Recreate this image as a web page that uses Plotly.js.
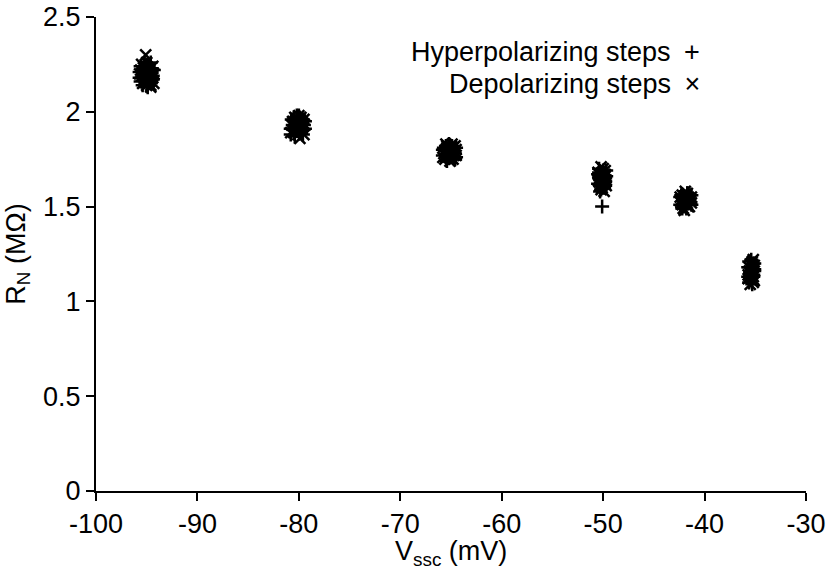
<!DOCTYPE html>
<html>
<head>
<meta charset="utf-8">
<script src="https://cdn.plot.ly/plotly-3.0.1.min.js"></script>
<style>html,body{margin:0;padding:0;background:#fff;}#chart{width:829px;height:584px;}</style>
</head>
<body>
<div id="chart"></div>
<script>
// Hyperpolarizing steps (+)
const hypX = [
  -95.6,-95.3,-95.0,-94.7,-94.4,-95.5,-95.1,-94.8,-94.5,-95.4,-95.0,-94.6,-95.7,-95.2,-94.9,-94.4,-95.3,-94.8,-95.6,-94.3,-95.2,-94.6,-95.7,-94.9,
  -80.7,-80.3,-79.9,-79.5,-80.5,-80.1,-79.7,-80.8,-80.2,-79.6,-80.4,-79.8,-80.0,-79.4,-80.6,-80.8,-79.4,-80.0,-80.5,-79.6,-80.2,
  -65.7,-65.3,-64.9,-64.6,-65.5,-65.1,-64.7,-65.8,-65.2,-64.8,-65.4,-65.0,-64.5,-65.6,-65.0,-65.8,-64.5,-65.2,-64.9,-65.5,-64.6,
  -50.4,-50.0,-49.7,-50.3,-49.9,-50.5,-50.1,-49.8,-50.2,-50.4,-50.0,-49.8,-50.3,-50.1,-50.1,-50.5,-49.7,-50.2,-49.9,-50.4,-49.8,
  -42.3,-41.9,-41.5,-42.1,-41.7,-41.4,-42.4,-42.0,-41.6,-42.2,-41.8,-41.3,-41.9,-42.0,-42.4,-41.3,-41.7,-42.2,-41.5,-42.0,
  -35.6,-35.3,-35.1,-35.5,-35.2,-35.7,-35.4,-35.1,-35.6,-35.3,-35.2,-35.5,-35.4,-35.7,-35.1,-35.4,-35.6,-35.2
];
const hypY = [
  2.24,2.22,2.25,2.21,2.19,2.18,2.16,2.20,2.23,2.14,2.17,2.15,2.21,2.26,2.13,2.17,2.20,2.24,2.16,2.22,2.19,2.26,2.18,2.23,
  1.96,1.94,1.97,1.93,1.91,1.95,1.90,1.88,1.92,1.96,1.87,1.89,1.98,1.91,1.93,1.91,1.95,1.93,1.97,1.88,1.98,
  1.81,1.79,1.82,1.78,1.76,1.80,1.75,1.77,1.83,1.79,1.74,1.78,1.81,1.79,1.76,1.80,1.76,1.77,1.81,1.82,1.75,
  1.70,1.68,1.66,1.64,1.62,1.67,1.60,1.63,1.59,1.65,1.69,1.61,1.58,1.66,1.50,1.62,1.69,1.67,1.60,1.68,1.65,
  1.56,1.55,1.54,1.53,1.57,1.52,1.51,1.50,1.53,1.55,1.49,1.56,1.52,1.54,1.55,1.51,1.57,1.49,1.56,1.53,
  1.21,1.19,1.17,1.15,1.20,1.13,1.11,1.16,1.18,1.09,1.14,1.12,1.22,1.18,1.20,1.16,1.10,1.13
];
// Depolarizing steps (x)
const depX = [
  -95.1,-95.5,-94.9,-94.5,-95.3,-94.7,-95.6,-95.0,-94.4,-95.2,-94.8,-95.4,-94.6,-95.0,-94.3,-95.5,-94.9,-95.2,-95.7,-94.4,-95.0,-94.6,-95.3,-94.3,
  -80.4,-80.0,-79.6,-80.7,-80.2,-79.8,-79.5,-80.5,-80.1,-79.7,-80.6,-80.3,-79.9,-79.4,-80.0,-80.8,-79.5,-80.3,-79.8,-80.5,-79.6,
  -65.4,-65.0,-64.6,-65.7,-65.2,-64.8,-65.5,-65.1,-64.7,-65.6,-65.3,-64.9,-64.5,-65.0,-65.4,-65.8,-64.6,-65.2,-64.8,-65.5,-64.5,
  -50.2,-49.8,-50.5,-50.0,-49.7,-50.3,-49.9,-50.4,-50.1,-49.8,-50.2,-50.0,-50.3,-49.9,-50.5,-49.7,-50.1,-50.4,-49.8,-50.2,
  -41.9,-42.2,-41.6,-41.4,-42.3,-41.8,-42.0,-41.5,-42.4,-41.7,-42.1,-41.3,-41.9,-42.0,-42.4,-41.3,-41.6,-42.2,-41.8,-42.1,
  -35.4,-35.2,-35.6,-35.1,-35.5,-35.3,-35.7,-35.2,-35.4,-35.6,-35.1,-35.3,-35.5,-35.7,-35.1,-35.3,-35.5,-35.2
];
const depY = [
  2.30,2.25,2.23,2.20,2.19,2.16,2.22,2.14,2.24,2.21,2.18,2.15,2.13,2.26,2.15,2.19,2.22,2.17,2.20,2.18,2.24,2.14,2.23,2.20,
  1.97,1.95,1.92,1.93,1.90,1.94,1.96,1.89,1.88,1.91,1.95,1.92,1.86,1.93,1.98,1.89,1.88,1.95,1.97,1.93,1.94,
  1.82,1.80,1.79,1.78,1.76,1.81,1.80,1.74,1.77,1.75,1.79,1.83,1.77,1.78,1.81,1.76,1.82,1.80,1.75,1.83,1.80,
  1.71,1.69,1.68,1.66,1.64,1.65,1.62,1.63,1.60,1.67,1.59,1.70,1.61,1.58,1.64,1.61,1.68,1.67,1.66,1.63,
  1.58,1.56,1.55,1.53,1.52,1.54,1.51,1.50,1.55,1.57,1.49,1.52,1.53,1.48,1.53,1.55,1.50,1.51,1.56,1.54,
  1.20,1.22,1.18,1.16,1.14,1.19,1.12,1.10,1.13,1.16,1.11,1.17,1.15,1.14,1.19,1.21,1.09,1.13
];
const xTickVals = [-100,-90,-80,-70,-60,-50,-40,-30];
const xTickLabels = ["-100","-90","-80","-70","-60","-50","-40","-30"];
const yTickVals = [0,0.5,1,1.5,2,2.5];
const yTickLabels = ["0","0.5","1","1.5","2","2.5"];
const legendLabels = ["Hyperpolarizing steps\u2002+", "Depolarizing steps\u2002\u00d7"];
const xTitle = "V<sub>ssc</sub> (mV)";
const yTitle = "R<sub>N</sub> (M\u03a9)";

const FONT = "Liberation Sans, Arial, Helvetica, sans-serif";
const FS = 27;

const traces = [
  {x: hypX, y: hypY, type: "scatter", mode: "markers", name: "Hyperpolarizing steps",
   marker: {symbol: "cross-thin-open", size: 10, color: "#000", line: {color: "#000", width: 2.5}}},
  {x: depX, y: depY, type: "scatter", mode: "markers", name: "Depolarizing steps",
   marker: {symbol: "x-thin-open", size: 11, color: "#000", line: {color: "#000", width: 2.5}}}
];

const layout = {
  width: 829, height: 584,
  margin: {l: 96, r: 23, t: 17, b: 93},
  paper_bgcolor: "#fff", plot_bgcolor: "#fff",
  showlegend: false,
  font: {family: FONT, size: FS, color: "#000"},
  xaxis: {
    range: [-100, -30], tickvals: xTickVals, ticktext: xTickLabels,
    ticks: "outside", ticklen: 8, tickwidth: 2, tickcolor: "#000",
    showline: true, linewidth: 2, linecolor: "#000",
    showgrid: false, zeroline: false, automargin: false,
    tickfont: {family: FONT, size: FS, color: "#000"}
  },
  yaxis: {
    range: [0, 2.5], tickvals: yTickVals, ticktext: yTickLabels,
    ticks: "outside", ticklen: 8, tickwidth: 2, tickcolor: "#000",
    showline: true, linewidth: 2, linecolor: "#000",
    showgrid: false, zeroline: false, automargin: false,
    tickfont: {family: FONT, size: FS, color: "#000"},
    title: {text: yTitle, font: {family: FONT, size: FS, color: "#000"}, standoff: 10}
  },
  annotations: [
    {xref: "paper", yref: "paper", x: 0.853, y: 0.926, xanchor: "right", yanchor: "middle",
     text: legendLabels[0], showarrow: false, font: {family: FONT, size: FS, color: "#000"}},
    {xref: "paper", yref: "paper", x: 0.853, y: 0.859, xanchor: "right", yanchor: "middle",
     text: legendLabels[1], showarrow: false, font: {family: FONT, size: FS, color: "#000"}},
    {xref: "paper", yref: "paper", x: 0.5, y: -0.131, xanchor: "center", yanchor: "middle",
     text: xTitle, showarrow: false, font: {family: FONT, size: FS, color: "#000"}}
  ]
};

Plotly.newPlot("chart", traces, layout, {displayModeBar: false, staticPlot: true});
</script>
</body>
</html>
